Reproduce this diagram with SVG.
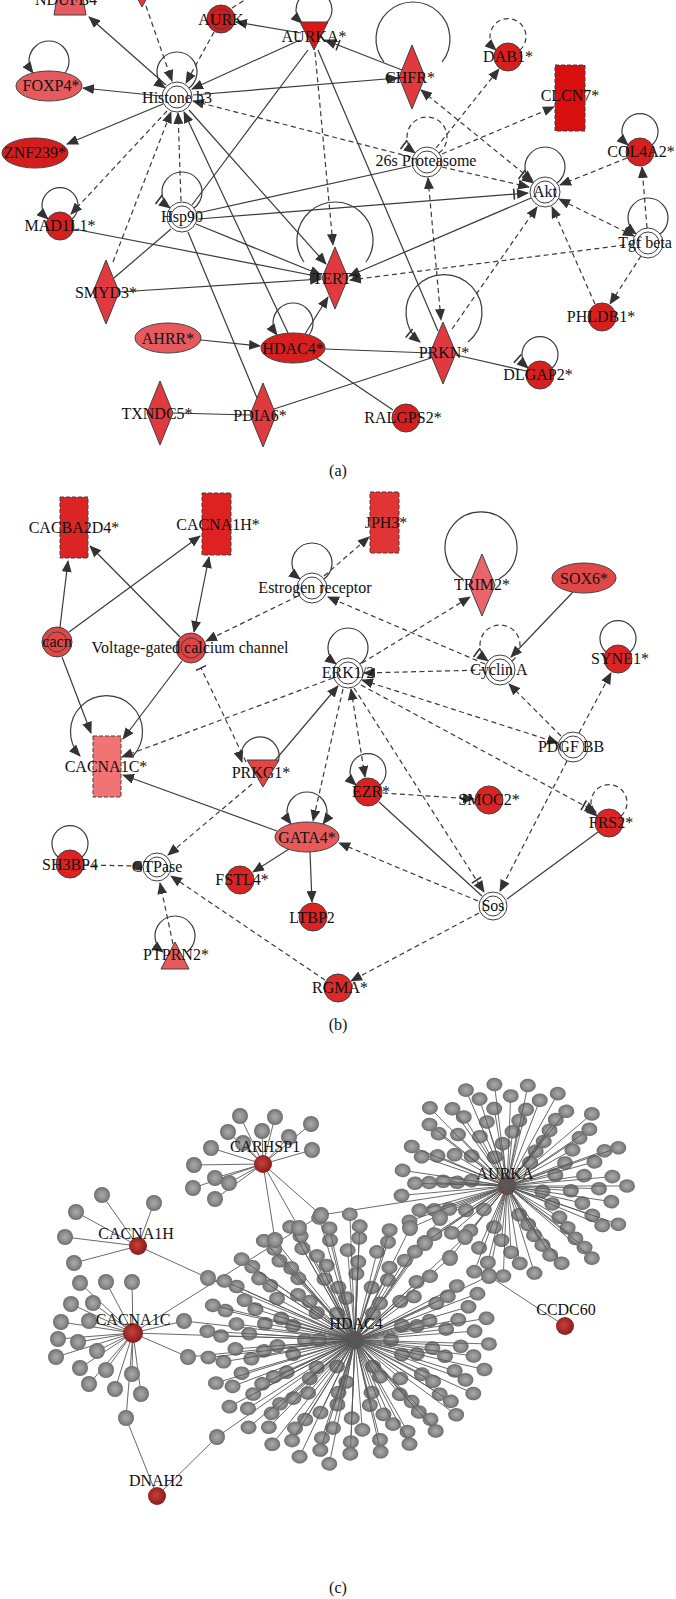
<svg xmlns="http://www.w3.org/2000/svg" width="676" height="1599" viewBox="0 0 676 1599">
<defs>
<style>
text{font-family:"Liberation Serif","Times New Roman",serif;font-size:16px;fill:#111;text-anchor:middle}
.e{fill:none;stroke:#3a3a3a;stroke-width:1.2}
.d{stroke-dasharray:5 3.5}
.n{stroke:#404040;stroke-width:1}
.dn{stroke-dasharray:4 2}
.w{fill:#fff}
.o{fill:none}
.c{stroke:#585858;stroke-width:0.9;fill:none}
</style>
<marker id="a" viewBox="0 0 12 10" refX="11" refY="5" markerWidth="12" markerHeight="10" markerUnits="userSpaceOnUse" orient="auto-start-reverse"><path d="M0,0L12,5L0,10z" fill="#333"/></marker>
<marker id="ib" viewBox="-5 -1 17 12" refX="11" refY="5" markerWidth="17" markerHeight="12" markerUnits="userSpaceOnUse" orient="auto"><path d="M0,0L12,5L0,10z" fill="#333"/><path d="M-3,-0.5V10.5" stroke="#333" stroke-width="1.6"/></marker>
<marker id="bar" viewBox="-2 -6 4 12" refX="0" refY="0" markerWidth="4" markerHeight="12" markerUnits="userSpaceOnUse" orient="auto"><path d="M0,-6V6" stroke="#333" stroke-width="1.5"/></marker>
<marker id="dot" viewBox="-5 -5 10 10" refX="0" refY="0" markerWidth="10" markerHeight="10" markerUnits="userSpaceOnUse"><circle r="4.5" fill="#333"/></marker>
<radialGradient id="gb" cx="0.5" cy="0.5" r="0.5"><stop offset="0" stop-color="#ababab"/><stop offset="0.65" stop-color="#8a8a8a"/><stop offset="1" stop-color="#6a6a6a"/></radialGradient>
<radialGradient id="gr" cx="0.45" cy="0.45" r="0.55"><stop offset="0" stop-color="#c8403a"/><stop offset="1" stop-color="#8a1c1c"/></radialGradient>
<circle id="b" r="8" fill="url(#gb)" stroke="none"/>
<g id="s36"><line x2="36"/><use href="#b" x="36"/></g>
<g id="s50"><line x2="50"/><use href="#b" x="50"/></g>
<g id="s64"><line x2="64"/><use href="#b" x="64"/></g>
<g id="s78"><line x2="78"/><use href="#b" x="78"/></g>
<g id="s92"><line x2="92"/><use href="#b" x="92"/></g>
<g id="s106"><line x2="106"/><use href="#b" x="106"/></g>
<g id="s120"><line x2="120"/><use href="#b" x="120"/></g>
<g id="s134"><line x2="134"/><use href="#b" x="134"/></g>
<g id="s148"><line x2="148"/><use href="#b" x="148"/></g>
</defs>
<rect width="676" height="1599" fill="#fff"/>

<!-- ================= PANEL A ================= -->
<g id="edges-a">
<path class="e" d="M166,85L89,17" marker-end="url(#a)"/>
<path class="e d" d="M146,6L172,81" marker-end="url(#a)"/>
<path class="e d" d="M214,32L186,83" marker-end="url(#a)"/>
<path class="e d" d="M232,8L248,-2"/>
<path class="e" d="M301,33L236,22" marker-end="url(#a)"/>
<path class="e" d="M300,40L192,89" marker-end="url(#a)"/>
<path class="e" d="M193,95L398,78" marker-end="url(#a)"/>
<path class="e" d="M402,70L325,40" marker-end="url(#ib)"/>
<path class="e d" d="M411,157L193,101" marker-end="url(#a)"/>
<path class="e d" d="M167,111L71,214" marker-end="url(#a)"/>
<path class="e d" d="M113,262L171,112" marker-end="url(#a)"/>
<path class="e d" d="M181,201L178,113" marker-end="url(#a)"/>
<path class="e" d="M189,110L326,264" marker-end="url(#a)"/>
<path class="e" d="M288,333L184,112" marker-end="url(#a)"/>
<path class="e" d="M308,50L192,205"/>
<path class="e" d="M318,50L438,331"/>
<path class="e d" d="M315,52L333,245" marker-end="url(#a)"/>
<path class="e" d="M198,213L411,166"/>
<path class="e" d="M198,219L528,193" marker-end="url(#ib)"/>
<path class="e" d="M196,224L321,275" marker-end="url(#a)"/>
<path class="e" d="M171,229L114,278"/>
<path class="e" d="M188,232L257,398"/>
<path class="e" d="M74,229L321,277" marker-end="url(#a)"/>
<path class="e" d="M119,292L321,279" marker-end="url(#a)"/>
<path class="e" d="M305,334L328,297" marker-end="url(#a)"/>
<path class="e" d="M531,198L349,276" marker-end="url(#a)"/>
<path class="e d" d="M633,244L350,280" marker-end="url(#a)"/>
<path class="e d" d="M428,178L441,320" marker-start="url(#a)" marker-end="url(#a)"/>
<path class="e" d="M325,349L430,353"/>
<path class="e" d="M274,409L431,358"/>
<path class="e" d="M316,358L393,410"/>
<path class="e" d="M456,355L526,371"/>
<path class="e d" d="M421,90L533,181" marker-start="url(#a)" marker-end="url(#a)"/>
<path class="e d" d="M436,148L499,69" marker-end="url(#a)"/>
<path class="e d" d="M442,154L554,107" marker-end="url(#a)"/>
<path class="e d" d="M442,167L529,187" marker-end="url(#a)"/>
<path class="e d" d="M627,158L560,185" marker-end="url(#a)"/>
<path class="e d" d="M647,228L642,167" marker-end="url(#a)"/>
<path class="e d" d="M634,236L559,199" marker-start="url(#a)" marker-end="url(#a)"/>
<path class="e d" d="M452,329L537,207" marker-end="url(#a)"/>
<path class="e d" d="M595,304L552,207" marker-end="url(#a)"/>
<path class="e d" d="M641,256L610,304" marker-end="url(#a)"/>
<path class="e" d="M201,340L260,346" marker-end="url(#a)"/>
<path class="e" d="M173,413L250,415"/>
<path class="e" d="M161,96L83,88" marker-end="url(#a)"/>
<path class="e" d="M163,104L67,144" marker-end="url(#a)"/>
<!-- self loops -->
<path class="e" d="M189,88A20,20 0 1 0 165,88" marker-end="url(#a)"/>
<path class="e" d="M194,208A20,20 0 1 0 170,208" marker-end="url(#ib)"/>
<path class="e d" d="M439,153A20,20 0 1 0 415,153" marker-end="url(#ib)"/>
<path class="e" d="M557,183A20,20 0 1 0 533,183" marker-end="url(#ib)"/>
<path class="e" d="M660,234A20,20 0 1 0 636,234" marker-end="url(#a)"/>
<path class="e" d="M72,219A18,18 0 1 0 48,219" marker-end="url(#a)"/>
<path class="e d" d="M520,50A18,18 0 1 0 496,50" marker-end="url(#a)"/>
<path class="e" d="M652,145A18,18 0 1 0 628,145" marker-end="url(#a)"/>
<path class="e" d="M552,368A18,18 0 1 0 528,368" marker-end="url(#ib)"/>
<path class="e" d="M65,73A20,20 0 1 0 33,73" marker-end="url(#a)"/>
<path class="e" d="M309,335A20,20 0 1 0 277,335" marker-end="url(#a)"/>
<path class="e" d="M326,23A18,18 0 1 0 302,23" marker-end="url(#a)"/>
<path class="e" d="M366,262A38,38 0 1 0 304,262"/>
<path class="e" d="M468,342A38,38 0 1 0 420,342" marker-end="url(#ib)"/>
<path class="e" d="M442,62A37,37 0 1 0 384,62"/>
</g>

<g id="n-NDUFB4"><path class="n" fill="#e85a60" d="M57,-2H83L86,15H54Z"/><text x="66" y="5">NDUFB4</text></g>
<g id="n-tri"><path class="n" fill="#e0393e" d="M134,-8H150L142,7Z"/></g>
<g id="n-AURK"><circle class="n" fill="#d41c1c" cx="221" cy="19" r="14"/><circle class="n o" cx="221" cy="19" r="10"/><text x="221" y="25">AURK</text></g>
<g id="n-AURKA"><path class="n" fill="#d81818" d="M300,22H328L314,50Z"/><text x="314" y="42">AURKA*</text></g>
<g id="n-H3"><circle class="n w" cx="177" cy="97" r="15"/><circle class="n w" cx="177" cy="97" r="11"/><text x="177" y="103">Histone h3</text></g>
<g id="n-FOXP4"><ellipse class="n" fill="#e65a5e" cx="49" cy="86" rx="33" ry="15"/><text x="51" y="91">FOXP4*</text></g>
<g id="n-ZNF239"><ellipse class="n" fill="#d41e1e" cx="35" cy="153" rx="33" ry="15"/><text x="35" y="158">ZNF239*</text></g>
<g id="n-MAD1L1"><circle class="n" fill="#d81f1f" cx="60" cy="226" r="14"/><text x="60" y="231">MAD1L1*</text></g>
<g id="n-Hsp90"><circle class="n w" cx="182" cy="217" r="15"/><circle class="n w" cx="182" cy="217" r="11"/><text x="182" y="222">Hsp90</text></g>
<g id="n-SMYD3"><path class="n" fill="#e0393e" d="M106,260L119,292L106,324L93,292Z"/><text x="106" y="298">SMYD3*</text></g>
<g id="n-AHRR"><ellipse class="n" fill="#e65a5e" cx="168" cy="338" rx="33" ry="15"/><text x="168" y="344">AHRR*</text></g>
<g id="n-HDAC4"><ellipse class="n" fill="#d81f1f" cx="293" cy="348" rx="32" ry="15"/><text x="293" y="354">HDAC4*</text></g>
<g id="n-TXNDC5"><path class="n" fill="#e0393e" d="M160,381L173,413L160,445L147,413Z"/><text x="157" y="419">TXNDC5*</text></g>
<g id="n-PDIA6"><path class="n" fill="#e0393e" d="M263,383L276,415L263,447L250,415Z"/><text x="260" y="421">PDIA6*</text></g>
<g id="n-TERT"><path class="n" fill="#e0393e" d="M335,247L348,278L335,309L322,278Z"/><text x="336" y="284">TERT*</text></g>
<g id="n-CHFR"><path class="n" fill="#e0393e" d="M412,45L425,77L412,109L399,77Z"/><text x="410" y="83">CHFR*</text></g>
<g id="n-DAB1"><circle class="n" fill="#d81f1f" cx="508" cy="57" r="14"/><text x="508" y="62">DAB1*</text></g>
<g id="n-CLCN7"><rect class="n dn" fill="#d80f0f" x="555" y="65" width="30" height="66"/><text x="570" y="101">CLCN7*</text></g>
<g id="n-26s"><circle class="n w" cx="427" cy="162" r="15"/><circle class="n w" cx="427" cy="162" r="11"/><text x="426" y="166">26s Proteasome</text></g>
<g id="n-Akt"><circle class="n w" cx="545" cy="192" r="15"/><circle class="n w" cx="545" cy="192" r="11"/><text x="545" y="197">Akt</text></g>
<g id="n-COL4A2"><circle class="n" fill="#d81f1f" cx="640" cy="152" r="14"/><text x="641" y="157">COL4A2*</text></g>
<g id="n-Tgfbeta"><circle class="n w" cx="648" cy="243" r="15"/><circle class="n w" cx="648" cy="243" r="11"/><text x="645" y="248">Tgf beta</text></g>
<g id="n-PHLDB1"><circle class="n" fill="#d81f1f" cx="602" cy="317" r="14"/><text x="601" y="322">PHLDB1*</text></g>
<g id="n-PRKN"><path class="n" fill="#e0393e" d="M443,322L456,353L443,384L430,353Z"/><text x="444" y="358">PRKN*</text></g>
<g id="n-DLGAP2"><circle class="n" fill="#d81f1f" cx="540" cy="375" r="14"/><text x="538" y="380">DLGAP2*</text></g>
<g id="n-RALGPS2"><circle class="n" fill="#d81f1f" cx="406" cy="418" r="14"/><text x="403" y="423">RALGPS2*</text></g>
<text x="338" y="476">(a)</text>

<!-- ================= PANEL B ================= -->
<g id="edges-b">
<path class="e" d="M60,627L68,561" marker-end="url(#a)"/>
<path class="e" d="M69,632L200,536" marker-end="url(#a)"/>
<path class="e" d="M180,637L90,546" marker-end="url(#a)"/>
<path class="e" d="M209,557L194,632" marker-start="url(#a)" marker-end="url(#a)"/>
<path class="e" d="M62,657L91,733" marker-end="url(#a)"/>
<path class="e" d="M182,661L123,739" marker-end="url(#a)"/>
<path class="e d" d="M298,596L206,641" marker-end="url(#a)"/>
<path class="e d" d="M324,576L369,537" marker-end="url(#a)"/>
<path class="e d" d="M485,664L328,597" marker-end="url(#a)"/>
<path class="e d" d="M362,663L470,597" marker-end="url(#a)"/>
<path class="e" d="M573,592L511,657" marker-end="url(#a)"/>
<path class="e d" d="M484,670L364,673" marker-end="url(#a)"/>
<path class="e d" d="M561,736L509,684" marker-end="url(#a)"/>
<path class="e d" d="M579,733L611,673" marker-end="url(#a)"/>
<path class="e d" d="M362,680L558,743" marker-start="url(#a)" marker-end="url(#a)"/>
<path class="e d" d="M361,685L596,812" marker-end="url(#ib)"/>
<path class="e d" d="M567,761L500,891" marker-end="url(#a)"/>
<path class="e d" d="M354,688L484,892" marker-end="url(#ib)"/>
<path class="e" d="M379,802L482,896"/>
<path class="e" d="M598,832L507,899"/>
<path class="e d" d="M478,901L339,843" marker-end="url(#a)"/>
<path class="e d" d="M479,913L351,981" marker-end="url(#a)"/>
<path class="e d" d="M383,793L474,799" marker-end="url(#a)"/>
<path class="e d" d="M351,689L365,777" marker-start="url(#a)" marker-end="url(#a)"/>
<path class="e d" d="M343,689L313,821" marker-end="url(#a)"/>
<path class="e" d="M272,764L338,686" marker-end="url(#a)"/>
<path class="e d" d="M246,762L201,668" marker-end="url(#bar)"/>
<path class="e d" d="M333,678L122,757" marker-end="url(#a)"/>
<path class="e" d="M277,831L123,775" marker-end="url(#a)"/>
<path class="e d" d="M252,784L168,855" marker-end="url(#a)"/>
<path class="e d" d="M84,865L138,866" marker-end="url(#dot)"/>
<path class="e d" d="M173,944L160,883" marker-end="url(#a)"/>
<path class="e d" d="M325,980L171,876" marker-end="url(#a)"/>
<path class="e" d="M289,849L253,872" marker-end="url(#a)"/>
<path class="e" d="M310,852L312,902" marker-end="url(#a)"/>
<!-- self loops -->
<path class="e" d="M324,579A20,20 0 1 0 300,579" marker-end="url(#a)"/>
<path class="e d" d="M512,661A20,20 0 1 0 488,661" marker-end="url(#ib)"/>
<path class="e" d="M630,652A18,18 0 1 0 606,652"/>
<path class="e" d="M360,664A20,20 0 1 0 336,664" marker-end="url(#a)"/>
<path class="e" d="M278,762A19,19 0 1 0 242,762" marker-end="url(#a)"/>
<path class="e" d="M323,824A20,20 0 1 0 291,824" marker-start="url(#a)" marker-end="url(#a)"/>
<path class="e" d="M380,785A18,18 0 1 0 356,785" marker-end="url(#a)"/>
<path class="e d" d="M621,816A18,18 0 1 0 597,816" marker-end="url(#a)"/>
<path class="e" d="M82,857A18,18 0 1 0 58,857"/>
<path class="e" d="M187,952A20,20 0 1 0 163,952" marker-end="url(#a)"/>
<path class="e" d="M499,579A36,36 0 1 0 463,579"/>
<path class="e" d="M133,756A36,36 0 1 0 80,756" marker-end="url(#a)"/>
</g>

<g id="n-CACBA2D4"><rect class="n dn" fill="#dc2424" x="60" y="497" width="28" height="61"/><text x="74" y="533">CACBA2D4*</text></g>
<g id="n-CACNA1H"><rect class="n dn" fill="#de2222" x="202" y="493" width="29" height="62"/><text x="218" y="530">CACNA1H*</text></g>
<g id="n-JPH3"><rect class="n dn" fill="#e13434" x="370" y="492" width="29" height="61"/><text x="386" y="528">JPH3*</text></g>
<g id="n-cacn"><circle class="n" fill="#e04848" cx="57" cy="642" r="15"/><circle class="n o" cx="57" cy="642" r="10"/><text x="57" y="647">cacn</text></g>
<g id="n-VGCC"><circle class="n" fill="#e04444" cx="191" cy="648" r="15"/><circle class="n o" cx="191" cy="648" r="10"/><text x="190" y="653">Voltage-gated calcium channel</text></g>
<g id="n-ER"><circle class="n w" cx="312" cy="588" r="15"/><circle class="n w" cx="312" cy="588" r="11"/><text x="315" y="593">Estrogen receptor</text></g>
<g id="n-TRIM2"><path class="n" fill="#e8666b" d="M482,554L495,585L482,616L469,585Z"/><text x="482" y="590">TRIM2*</text></g>
<g id="n-SOX6"><ellipse class="n" fill="#e04848" cx="584" cy="578" rx="32" ry="15"/><text x="584" y="584">SOX6*</text></g>
<g id="n-CyclinA"><circle class="n w" cx="500" cy="670" r="15"/><circle class="n w" cx="500" cy="670" r="11"/><text x="499" y="675">Cyclin A</text></g>
<g id="n-SYNE1"><circle class="n" fill="#dc2424" cx="618" cy="659" r="14"/><text x="620" y="664">SYNE1*</text></g>
<g id="n-PDGFBB"><circle class="n w" cx="573" cy="747" r="15"/><circle class="n w" cx="573" cy="747" r="11"/><text x="571" y="752">PDGF BB</text></g>
<g id="n-ERK"><circle class="n w" cx="348" cy="673" r="15"/><circle class="n w" cx="348" cy="673" r="11"/><text x="348" y="678">ERK1/2</text></g>
<g id="n-CACNA1C"><rect class="n dn" fill="#f07474" x="93" y="736" width="28" height="61"/><text x="106" y="772">CACNA1C*</text></g>
<g id="n-PRKG1"><path class="n" fill="#e24444" d="M247,760H279L263,787Z"/><text x="261" y="778">PRKG1*</text></g>
<g id="n-GATA4"><ellipse class="n" fill="#e85a5a" cx="307" cy="837" rx="32" ry="15"/><text x="307" y="843">GATA4*</text></g>
<g id="n-EZR"><circle class="n" fill="#dc2020" cx="368" cy="792" r="14"/><text x="371" y="797">EZR*</text></g>
<g id="n-SMOC2"><circle class="n" fill="#dc2424" cx="489" cy="800" r="14"/><text x="489" y="805">SMOC2*</text></g>
<g id="n-FRS2"><circle class="n" fill="#dc2424" cx="609" cy="823" r="14"/><text x="611" y="828">FRS2*</text></g>
<g id="n-Sos"><circle class="n w" cx="493" cy="906" r="14"/><circle class="n w" cx="493" cy="906" r="10"/><text x="493" y="911">Sos</text></g>
<g id="n-SH3BP4"><circle class="n" fill="#dc2222" cx="70" cy="864" r="14"/><text x="70" y="870">SH3BP4</text></g>
<g id="n-GTPase"><circle class="n w" cx="157" cy="867" r="14"/><circle class="n w" cx="157" cy="867" r="10"/><text x="157" y="872">GTPase</text></g>
<g id="n-FSTL4"><circle class="n" fill="#dc2222" cx="240" cy="880" r="14"/><text x="242" y="885">FSTL4*</text></g>
<g id="n-LTBP2"><circle class="n" fill="#dc2222" cx="313" cy="917" r="14"/><text x="312" y="923">LTBP2</text></g>
<g id="n-PTPRN2"><path class="n" fill="#e85a5a" d="M175,942L189,969H161Z"/><text x="176" y="960">PTPRN2*</text></g>
<g id="n-RGMA"><circle class="n" fill="#dc2a2a" cx="338" cy="988" r="14"/><text x="340" y="993">RGMA*</text></g>
<text x="338" y="1030">(b)</text>

<!-- ================= PANEL C ================= -->
<g id="edges-c" class="c">
<path d="M263,1164L321,1215L507,1186M321,1215L133,1333M263,1164L299,1228L355,1340M263,1164L275,1240L355,1340M138,1246L208,1278L355,1340M133,1333L126,1418L157,1496L217,1437L355,1340M507,1186L489,1276L355,1340M489,1276L565,1326M507,1186L425,1243L355,1340M507,1186L450,1258L355,1340M507,1186L410,1228L355,1340M507,1186L465,1237L355,1340M507,1186L440,1218L355,1340M133,1333L355,1340M133,1333L184,1321L355,1340M133,1333L188,1357L355,1340"/>
<path d="M263,1164L240,1116M263,1164L275,1117M263,1164L311,1124M263,1164L228,1132M263,1164L262,1131M263,1164L289,1137M263,1164L312,1150M263,1164L211,1148M263,1164L194,1165M263,1164L215,1178M263,1164L193,1188M263,1164L229,1183M263,1164L215,1199M263,1164L243,1143"/>
<path d="M138,1246L102,1195M138,1246L154,1203M138,1246L76,1212M138,1246L65,1237M138,1246L74,1263"/>
<path d="M133,1333L80,1283M133,1333L106,1282M133,1333L132,1282M133,1333L71,1304M133,1333L93,1303M133,1333L61,1322M133,1333L89,1321M133,1333L58,1339M133,1333L78,1342M133,1333L56,1357M133,1333L97,1351M133,1333L80,1368M133,1333L106,1370M133,1333L89,1384M133,1333L115,1389M133,1333L141,1394M133,1333L132,1374"/>
</g>
<g id="n-c-hubs-under">
<circle cx="507" cy="1186" r="9" fill="url(#gr)"/>
<circle cx="355" cy="1340" r="9" fill="url(#gr)"/>
</g>
<g id="n-c-AURKA-cluster" class="c" transform="translate(507,1186) scale(1,0.85)">
<use href="#s36" transform="rotate(10)"/><use href="#s36" transform="rotate(70)"/><use href="#s36" transform="rotate(130)"/><use href="#s36" transform="rotate(190)"/><use href="#s36" transform="rotate(250)"/><use href="#s36" transform="rotate(310)"/>
<use href="#s50" transform="rotate(25)"/><use href="#s50" transform="rotate(65)"/><use href="#s50" transform="rotate(105)"/><use href="#s50" transform="rotate(145)"/><use href="#s50" transform="rotate(185)"/><use href="#s50" transform="rotate(225)"/><use href="#s50" transform="rotate(265)"/><use href="#s50" transform="rotate(305)"/><use href="#s50" transform="rotate(345)"/>
<use href="#s64" transform="rotate(5)"/><use href="#s64" transform="rotate(35)"/><use href="#s64" transform="rotate(65)"/><use href="#s64" transform="rotate(95)"/><use href="#s64" transform="rotate(125)"/><use href="#s64" transform="rotate(155)"/><use href="#s64" transform="rotate(185)"/><use href="#s64" transform="rotate(215)"/><use href="#s64" transform="rotate(245)"/><use href="#s64" transform="rotate(275)"/><use href="#s64" transform="rotate(305)"/><use href="#s64" transform="rotate(335)"/>
<use href="#s78" transform="rotate(15)"/><use href="#s78" transform="rotate(39)"/><use href="#s78" transform="rotate(63)"/><use href="#s78" transform="rotate(87)"/><use href="#s78" transform="rotate(111)"/><use href="#s78" transform="rotate(135)"/><use href="#s78" transform="rotate(159)"/><use href="#s78" transform="rotate(183)"/><use href="#s78" transform="rotate(207)"/><use href="#s78" transform="rotate(231)"/><use href="#s78" transform="rotate(255)"/><use href="#s78" transform="rotate(279)"/><use href="#s78" transform="rotate(303)"/><use href="#s78" transform="rotate(327)"/><use href="#s78" transform="rotate(351)"/>
<use href="#s92" transform="rotate(2)"/><use href="#s92" transform="rotate(22)"/><use href="#s92" transform="rotate(42)"/><use href="#s92" transform="rotate(62)"/><use href="#s92" transform="rotate(82)"/><use href="#s92" transform="rotate(102)"/><use href="#s92" transform="rotate(142)"/><use href="#s92" transform="rotate(162)"/><use href="#s92" transform="rotate(182)"/><use href="#s92" transform="rotate(202)"/><use href="#s92" transform="rotate(222)"/><use href="#s92" transform="rotate(242)"/><use href="#s92" transform="rotate(262)"/><use href="#s92" transform="rotate(282)"/><use href="#s92" transform="rotate(302)"/><use href="#s92" transform="rotate(322)"/><use href="#s92" transform="rotate(342)"/>
<use href="#s106" transform="rotate(10)"/><use href="#s106" transform="rotate(26)"/><use href="#s106" transform="rotate(43)"/><use href="#s106" transform="rotate(59)"/><use href="#s106" transform="rotate(75)"/><use href="#s106" transform="rotate(92)"/><use href="#s106" transform="rotate(108)"/><use href="#s106" transform="rotate(141)"/><use href="#s106" transform="rotate(157)"/><use href="#s106" transform="rotate(174)"/><use href="#s106" transform="rotate(190)"/><use href="#s106" transform="rotate(206)"/><use href="#s106" transform="rotate(223)"/><use href="#s106" transform="rotate(239)"/><use href="#s106" transform="rotate(255)"/><use href="#s106" transform="rotate(272)"/><use href="#s106" transform="rotate(288)"/><use href="#s106" transform="rotate(304)"/><use href="#s106" transform="rotate(321)"/><use href="#s106" transform="rotate(337)"/><use href="#s106" transform="rotate(354)"/>
<use href="#s120" transform="rotate(315)"/><use href="#s120" transform="rotate(338)"/><use href="#s120" transform="rotate(0)"/><use href="#s120" transform="rotate(22)"/><use href="#s120" transform="rotate(45)"/><use href="#s120" transform="rotate(230)"/><use href="#s120" transform="rotate(250)"/><use href="#s120" transform="rotate(264)"/><use href="#s120" transform="rotate(280)"/><use href="#s120" transform="rotate(295)"/>
</g>
<g id="n-c-HDAC4-cluster" class="c" transform="translate(355,1340) scale(1,0.85)">
<use href="#s36" transform="rotate(0)"/><use href="#s36" transform="rotate(60)"/><use href="#s36" transform="rotate(120)"/><use href="#s36" transform="rotate(180)"/><use href="#s36" transform="rotate(240)"/><use href="#s36" transform="rotate(300)"/>
<use href="#s50" transform="rotate(20)"/><use href="#s50" transform="rotate(60)"/><use href="#s50" transform="rotate(100)"/><use href="#s50" transform="rotate(140)"/><use href="#s50" transform="rotate(180)"/><use href="#s50" transform="rotate(220)"/><use href="#s50" transform="rotate(260)"/><use href="#s50" transform="rotate(300)"/><use href="#s50" transform="rotate(340)"/>
<use href="#s64" transform="rotate(15)"/><use href="#s64" transform="rotate(45)"/><use href="#s64" transform="rotate(75)"/><use href="#s64" transform="rotate(105)"/><use href="#s64" transform="rotate(135)"/><use href="#s64" transform="rotate(165)"/><use href="#s64" transform="rotate(195)"/><use href="#s64" transform="rotate(225)"/><use href="#s64" transform="rotate(255)"/><use href="#s64" transform="rotate(285)"/><use href="#s64" transform="rotate(315)"/><use href="#s64" transform="rotate(345)"/>
<use href="#s78" transform="rotate(7)"/><use href="#s78" transform="rotate(31)"/><use href="#s78" transform="rotate(55)"/><use href="#s78" transform="rotate(79)"/><use href="#s78" transform="rotate(103)"/><use href="#s78" transform="rotate(127)"/><use href="#s78" transform="rotate(151)"/><use href="#s78" transform="rotate(175)"/><use href="#s78" transform="rotate(199)"/><use href="#s78" transform="rotate(223)"/><use href="#s78" transform="rotate(247)"/><use href="#s78" transform="rotate(271)"/><use href="#s78" transform="rotate(295)"/><use href="#s78" transform="rotate(319)"/><use href="#s78" transform="rotate(343)"/>
<use href="#s92" transform="rotate(12)"/><use href="#s92" transform="rotate(32)"/><use href="#s92" transform="rotate(52)"/><use href="#s92" transform="rotate(72)"/><use href="#s92" transform="rotate(92)"/><use href="#s92" transform="rotate(112)"/><use href="#s92" transform="rotate(132)"/><use href="#s92" transform="rotate(152)"/><use href="#s92" transform="rotate(172)"/><use href="#s92" transform="rotate(192)"/><use href="#s92" transform="rotate(212)"/><use href="#s92" transform="rotate(232)"/><use href="#s92" transform="rotate(252)"/><use href="#s92" transform="rotate(272)"/><use href="#s92" transform="rotate(292)"/><use href="#s92" transform="rotate(312)"/><use href="#s92" transform="rotate(332)"/><use href="#s92" transform="rotate(352)"/>
<use href="#s106" transform="rotate(4)"/><use href="#s106" transform="rotate(20)"/><use href="#s106" transform="rotate(37)"/><use href="#s106" transform="rotate(53)"/><use href="#s106" transform="rotate(69)"/><use href="#s106" transform="rotate(86)"/><use href="#s106" transform="rotate(102)"/><use href="#s106" transform="rotate(118)"/><use href="#s106" transform="rotate(135)"/><use href="#s106" transform="rotate(151)"/><use href="#s106" transform="rotate(168)"/><use href="#s106" transform="rotate(184)"/><use href="#s106" transform="rotate(200)"/><use href="#s106" transform="rotate(217)"/><use href="#s106" transform="rotate(233)"/><use href="#s106" transform="rotate(249)"/><use href="#s106" transform="rotate(266)"/><use href="#s106" transform="rotate(282)"/><use href="#s106" transform="rotate(298)"/><use href="#s106" transform="rotate(315)"/><use href="#s106" transform="rotate(331)"/><use href="#s106" transform="rotate(347)"/>
<use href="#s120" transform="rotate(9)"/><use href="#s120" transform="rotate(23)"/><use href="#s120" transform="rotate(37)"/><use href="#s120" transform="rotate(51)"/><use href="#s120" transform="rotate(64)"/><use href="#s120" transform="rotate(78)"/><use href="#s120" transform="rotate(92)"/><use href="#s120" transform="rotate(106)"/><use href="#s120" transform="rotate(120)"/><use href="#s120" transform="rotate(134)"/><use href="#s120" transform="rotate(148)"/><use href="#s120" transform="rotate(161)"/><use href="#s120" transform="rotate(175)"/><use href="#s120" transform="rotate(189)"/><use href="#s120" transform="rotate(203)"/><use href="#s120" transform="rotate(217)"/><use href="#s120" transform="rotate(231)"/><use href="#s120" transform="rotate(244)"/><use href="#s120" transform="rotate(258)"/><use href="#s120" transform="rotate(272)"/><use href="#s120" transform="rotate(286)"/><use href="#s120" transform="rotate(300)"/><use href="#s120" transform="rotate(328)"/><use href="#s120" transform="rotate(341)"/><use href="#s120" transform="rotate(355)"/>
<use href="#s134" transform="rotate(2)"/><use href="#s134" transform="rotate(15)"/><use href="#s134" transform="rotate(28)"/><use href="#s134" transform="rotate(41)"/><use href="#s134" transform="rotate(53)"/><use href="#s134" transform="rotate(66)"/><use href="#s134" transform="rotate(79)"/><use href="#s134" transform="rotate(92)"/><use href="#s134" transform="rotate(105)"/><use href="#s134" transform="rotate(118)"/><use href="#s134" transform="rotate(130)"/><use href="#s134" transform="rotate(143)"/><use href="#s134" transform="rotate(156)"/><use href="#s134" transform="rotate(169)"/><use href="#s134" transform="rotate(182)"/><use href="#s134" transform="rotate(195)"/><use href="#s134" transform="rotate(208)"/><use href="#s134" transform="rotate(220)"/><use href="#s134" transform="rotate(233)"/><use href="#s134" transform="rotate(246)"/><use href="#s134" transform="rotate(259)"/><use href="#s134" transform="rotate(272)"/><use href="#s134" transform="rotate(285)"/><use href="#s134" transform="rotate(336)"/><use href="#s134" transform="rotate(349)"/>
<use href="#s148" transform="rotate(100)"/><use href="#s148" transform="rotate(112)"/><use href="#s148" transform="rotate(124)"/><use href="#s148" transform="rotate(136)"/><use href="#s148" transform="rotate(148)"/><use href="#s148" transform="rotate(160)"/><use href="#s148" transform="rotate(172)"/><use href="#s148" transform="rotate(184)"/><use href="#s148" transform="rotate(196)"/><use href="#s148" transform="rotate(208)"/><use href="#s148" transform="rotate(220)"/><use href="#s148" transform="rotate(232)"/><use href="#s148" transform="rotate(244)"/><use href="#s148" transform="rotate(256)"/><use href="#s148" transform="rotate(268)"/>
</g>
<g id="n-c-leaves">
<use href="#b" x="240" y="1116"/><use href="#b" x="275" y="1117"/><use href="#b" x="311" y="1124"/><use href="#b" x="228" y="1132"/><use href="#b" x="262" y="1131"/><use href="#b" x="289" y="1137"/><use href="#b" x="312" y="1150"/><use href="#b" x="211" y="1148"/><use href="#b" x="194" y="1165"/><use href="#b" x="215" y="1178"/><use href="#b" x="193" y="1188"/><use href="#b" x="229" y="1183"/><use href="#b" x="215" y="1199"/><use href="#b" x="243" y="1143"/>
<use href="#b" x="102" y="1195"/><use href="#b" x="154" y="1203"/><use href="#b" x="76" y="1212"/><use href="#b" x="65" y="1237"/><use href="#b" x="74" y="1263"/>
<use href="#b" x="80" y="1283"/><use href="#b" x="106" y="1282"/><use href="#b" x="132" y="1282"/><use href="#b" x="71" y="1304"/><use href="#b" x="93" y="1303"/><use href="#b" x="61" y="1322"/><use href="#b" x="89" y="1321"/><use href="#b" x="58" y="1339"/><use href="#b" x="78" y="1342"/><use href="#b" x="56" y="1357"/><use href="#b" x="97" y="1351"/><use href="#b" x="80" y="1368"/><use href="#b" x="106" y="1370"/><use href="#b" x="89" y="1384"/><use href="#b" x="115" y="1389"/><use href="#b" x="141" y="1394"/><use href="#b" x="132" y="1374"/><use href="#b" x="184" y="1321"/><use href="#b" x="188" y="1357"/>
<use href="#b" x="321" y="1215"/><use href="#b" x="299" y="1228"/><use href="#b" x="275" y="1240"/><use href="#b" x="208" y="1278"/><use href="#b" x="126" y="1418"/><use href="#b" x="217" y="1437"/><use href="#b" x="489" y="1276"/>
<use href="#b" x="425" y="1243"/><use href="#b" x="450" y="1258"/><use href="#b" x="410" y="1228"/><use href="#b" x="465" y="1237"/><use href="#b" x="440" y="1218"/>
</g>
<g id="n-c-CARHSP1"><circle cx="263" cy="1164" r="9" fill="url(#gr)"/></g>
<g id="n-c-CACNA1H"><circle cx="138" cy="1246" r="9" fill="url(#gr)"/></g>
<g id="n-c-CACNA1C"><circle cx="133" cy="1333" r="10" fill="url(#gr)"/></g>
<g id="n-c-CCDC60"><circle cx="565" cy="1326" r="9" fill="url(#gr)"/></g>
<g id="n-c-DNAH2"><circle cx="157" cy="1496" r="9" fill="url(#gr)"/></g>
<g id="labels-c">
<text x="265" y="1152">CARHSP1</text>
<text x="505" y="1179">AURKA</text>
<text x="136" y="1239">CACNA1H</text>
<text x="133" y="1325">CACNA1C</text>
<text x="356" y="1329">HDAC4</text>
<text x="566" y="1315">CCDC60</text>
<text x="156" y="1486">DNAH2</text>
<text x="338" y="1593">(c)</text>
</g>
</svg>
